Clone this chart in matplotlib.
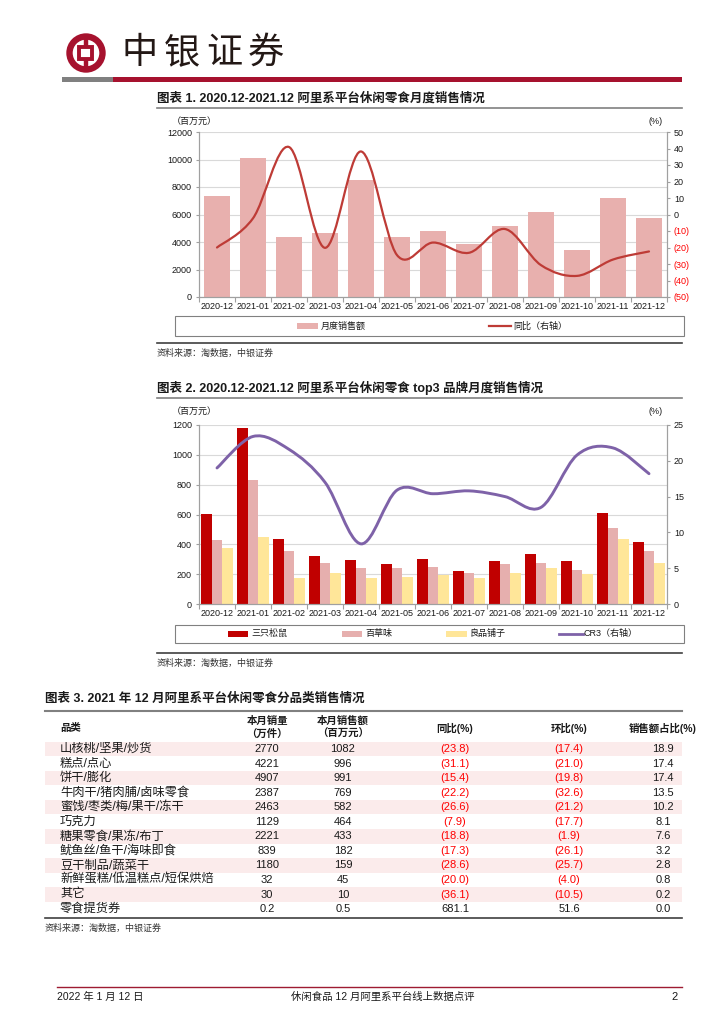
import numpy as np
import matplotlib
matplotlib.use('Agg')
import matplotlib.pyplot as plt
from matplotlib.path import Path
from matplotlib.patches import PathPatch, Rectangle, Circle
from matplotlib.ticker import FixedLocator

plt.rcParams['font.family'] = ['Liberation Sans', 'Noto Sans CJK SC', 'DejaVu Sans']

# ---------------- data ----------------
months = ['2020-12', '2021-01', '2021-02', '2021-03', '2021-04', '2021-05', '2021-06',
          '2021-07', '2021-08', '2021-09', '2021-10', '2021-11', '2021-12']
sales_total = [7350, 10120, 4360, 4670, 8520, 4380, 4820, 3840, 5160, 6160, 3450, 7200, 5720]
yoy_total = [-20.0, -2.3, 40.9, -20.2, 38.2, -24.6, -17.0, -23.2, -8.8, -30.7, -37.2, -27.3, -22.4]

squirrel = [605, 1180, 437, 325, 296, 265, 300, 222, 285, 336, 285, 610, 415]
baicaowei = [430, 830, 352, 274, 240, 240, 251, 211, 271, 276, 229, 511, 354]
liangpin = [374, 448, 173, 209, 177, 184, 193, 177, 211, 240, 202, 435, 274]
cr3 = [19.0, 23.4, 21.6, 17.0, 8.4, 15.9, 15.4, 15.8, 15.0, 13.5, 20.8, 21.8, 18.2]

brand_names = ['三只松鼠', '百草味', '良品铺子', 'CR3（右轴）']

categories = ['山核桃/坚果/炒货', '糕点/点心', '饼干/膨化', '牛肉干/猪肉脯/卤味零食',
              '蜜饯/枣类/梅/果干/冻干', '巧克力', '糖果零食/果冻/布丁', '鱿鱼丝/鱼干/海味即食',
              '豆干制品/蔬菜干', '新鲜蛋糕/低温糕点/短保烘焙', '其它', '零食提货券']
volume = [2770, 4221, 4907, 2387, 2463, 1129, 2221, 839, 1180, 32, 30, 0.2]
revenue = [1082, 996, 991, 769, 582, 464, 433, 182, 159, 45, 10, 0.5]
yoy_cat = [-23.8, -31.1, -15.4, -22.2, -26.6, -7.9, -18.8, -17.3, -28.6, -20.0, -36.1, 681.1]
mom_cat = [-17.4, -21.0, -19.8, -32.6, -21.2, -17.7, -1.9, -26.1, -25.7, -4.0, -10.5, 51.6]
share_cat = [18.9, 17.4, 17.4, 13.5, 10.2, 8.1, 7.6, 3.2, 2.8, 0.8, 0.2, 0.0]

# ---------------- styles ----------------
W, H = 725, 1024
fig = plt.figure(figsize=(W / 100, H / 100), dpi=100)
fig.patch.set_facecolor('white')

RED_BRAND = '#A6122E'
GRAY_AX = '#A0A0A0'
GRID = '#D9D9D9'
TXT = '#1A1A1A'
FS_TICK = 6.5

bg = fig.add_axes([0, 0, 1, 1])
bg.set_xlim(0, W)
bg.set_ylim(H, 0)
bg.axis('off')
bg.set_zorder(0)


def px_axes(x0, y0, x1, y1):
    ax = fig.add_axes([x0 / W, 1 - y1 / H, (x1 - x0) / W, (y1 - y0) / H])
    ax.set_facecolor('none')
    ax.set_zorder(2)
    return ax


def smooth_path(xs, ys):
    pts = np.column_stack([xs, ys]).astype(float)
    n = len(pts)
    verts = [pts[0]]
    codes = [Path.MOVETO]
    for i in range(n - 1):
        p0 = pts[i - 1] if i > 0 else pts[i]
        p1 = pts[i]
        p2 = pts[i + 1]
        p3 = pts[i + 2] if i + 2 < n else pts[i + 1]
        c1 = p1 + (p2 - p0) / 6.0
        c2 = p2 - (p3 - p1) / 6.0
        verts += [c1, c2, p2]
        codes += [Path.CURVE4] * 3
    return Path(verts, codes)


def style_axes(ax, axr, ymax, ystep, rmin, rmax, rstep, rlabels, rcolors):
    x = np.arange(len(months))
    ax.set_xlim(-0.5, len(months) - 0.5)
    ax.set_ylim(0, ymax)
    ax.set_yticks(np.arange(0, ymax + 1, ystep))
    ax.set_yticklabels([f'{v:d}' for v in np.arange(0, ymax + 1, ystep)])
    ax.yaxis.grid(True, color=GRID, lw=0.8, zorder=0)
    ax.set_axisbelow(True)
    ax.set_xticks(x)
    ax.set_xticklabels(months)
    ax.xaxis.set_minor_locator(FixedLocator(np.arange(-0.5, len(months), 1.0)))
    ax.tick_params(axis='x', which='major', length=0, pad=3.5, labelsize=FS_TICK, colors=TXT)
    ax.tick_params(axis='x', which='minor', length=3.5, color=GRAY_AX, width=0.8)
    ax.tick_params(axis='y', length=2.5, pad=2.5, labelsize=FS_TICK, color=GRAY_AX, width=0.8, labelcolor=TXT)
    for s in ['top']:
        ax.spines[s].set_visible(False)
        axr.spines[s].set_visible(False)
    for s in ['left', 'bottom', 'right']:
        ax.spines[s].set_color(GRAY_AX)
        ax.spines[s].set_linewidth(0.8)
        axr.spines[s].set_color(GRAY_AX)
        axr.spines[s].set_linewidth(0.8)
    axr.set_ylim(rmin, rmax)
    rt = np.arange(rmin, rmax + 0.1, rstep)
    axr.set_yticks(rt)
    axr.set_yticklabels(rlabels)
    for lab, c in zip(axr.get_yticklabels(), rcolors):
        lab.set_color(c)
    axr.tick_params(axis='y', length=2.5, pad=2.5, labelsize=FS_TICK, color=GRAY_AX, width=0.8)


# ---------------- header ----------------
bg.add_patch(Circle((86, 53), 16.5, fill=False, ec=RED_BRAND, lw=4.6))
bg.add_patch(Rectangle((79.5, 47), 13, 11.5, fill=False, ec=RED_BRAND, lw=2.8))
bg.plot([86, 86], [37, 47], color=RED_BRAND, lw=3.2, solid_capstyle='butt')
bg.plot([86, 86], [58.5, 69], color=RED_BRAND, lw=3.2, solid_capstyle='butt')
for i, ch in enumerate('中银证券'):
    bg.text(140 + i * 42, 53, ch, fontsize=26, ha='center', va='center', color='#231815',
            family=['Noto Sans CJK SC'], fontweight='medium')
bg.add_patch(Rectangle((62, 77), 51, 5, color='#808080', lw=0))
bg.add_patch(Rectangle((113, 77), 569, 5, color=RED_BRAND, lw=0))

# ---------------- chart 1 ----------------
bg.text(157, 98, '图表 1. 2020.12-2021.12 阿里系平台休闲零食月度销售情况', fontsize=9,
        fontweight='bold', va='center', ha='left', color=TXT)
bg.plot([157, 682], [108, 108], color='#808080', lw=1.2)
bg.text(172, 121, '（百万元）', fontsize=6.5, va='center', ha='left', color=TXT)
bg.text(663, 121, '(%)', fontsize=6.5, va='center', ha='right', color=TXT)

ax1 = px_axes(199, 132, 667, 297)
ax1r = ax1.twinx()
ax1r.set_zorder(3)
x = np.arange(len(months))
ax1.bar(x, sales_total, width=0.7, color='#E8B0AE', zorder=2)
r1_ticks = np.arange(-50, 51, 10)
r1_labels = [f'({abs(v)})' if v < 0 else f'{v}' for v in r1_ticks]
r1_colors = ['#FF0000' if v < 0 else TXT for v in r1_ticks]
style_axes(ax1, ax1r, 12000, 2000, -50, 50, 10, r1_labels, r1_colors)
ax1r.add_patch(PathPatch(smooth_path(x, yoy_total), fill=False, ec='#BE3B36', lw=1.6,
                         capstyle='round', joinstyle='round'))

# legend 1
bg.add_patch(Rectangle((175, 316), 509, 20, fill=False, ec='#808080', lw=0.8))
bg.add_patch(Rectangle((297, 323), 21, 6, color='#E8B0AE', lw=0))
bg.text(321, 326, '月度销售额', fontsize=6.5, va='center', ha='left', color=TXT)
bg.plot([489, 511], [326, 326], color='#BE3B36', lw=1.6)
bg.text(513, 326, '同比（右轴）', fontsize=6.5, va='center', ha='left', color=TXT)
bg.plot([157, 682], [343, 343], color='#404040', lw=1.2)
bg.text(157, 353, '资料来源：淘数据，中银证券', fontsize=6.5, va='center', ha='left', color='#333333')

# ---------------- chart 2 ----------------
bg.text(157, 388, '图表 2. 2020.12-2021.12 阿里系平台休闲零食 top3 品牌月度销售情况', fontsize=9,
        fontweight='bold', va='center', ha='left', color=TXT)
bg.plot([157, 682], [398, 398], color='#808080', lw=1.2)
bg.text(172, 411, '（百万元）', fontsize=6.5, va='center', ha='left', color=TXT)
bg.text(663, 411, '(%)', fontsize=6.5, va='center', ha='right', color=TXT)

ax2 = px_axes(199, 425, 667, 604)
ax2r = ax2.twinx()
ax2r.set_zorder(3)
bw = 0.29
c_sq, c_bc, c_lp, c_cr = '#C00000', '#E6AFAE', '#FFE699', '#7E62A8'
ax2.bar(x - bw, squirrel, width=bw, color=c_sq, zorder=2)
ax2.bar(x, baicaowei, width=bw, color=c_bc, zorder=2)
ax2.bar(x + bw, liangpin, width=bw, color=c_lp, zorder=2)
r2_ticks = np.arange(0, 26, 5)
style_axes(ax2, ax2r, 1200, 200, 0, 25, 5, [f'{v}' for v in r2_ticks], [TXT] * len(r2_ticks))
ax2r.add_patch(PathPatch(smooth_path(x, cr3), fill=False, ec=c_cr, lw=2.1,
                         capstyle='round', joinstyle='round'))

# legend 2
bg.add_patch(Rectangle((175, 625), 509, 17.5, fill=False, ec='#808080', lw=0.8))
ly = 633.5
bg.add_patch(Rectangle((228, ly - 3), 20, 6, color=c_sq, lw=0))
bg.text(251, ly, brand_names[0], fontsize=6.5, va='center', ha='left', color=TXT)
bg.add_patch(Rectangle((342, ly - 3), 20, 6, color=c_bc, lw=0))
bg.text(365, ly, brand_names[1], fontsize=6.5, va='center', ha='left', color=TXT)
bg.add_patch(Rectangle((446, ly - 3), 21, 6, color=c_lp, lw=0))
bg.text(470, ly, brand_names[2], fontsize=6.5, va='center', ha='left', color=TXT)
bg.plot([559, 583], [ly, ly], color=c_cr, lw=2.0)
bg.text(584, ly, brand_names[3], fontsize=6.5, va='center', ha='left', color=TXT)
bg.plot([157, 682], [653, 653], color='#404040', lw=1.2)
bg.text(157, 663, '资料来源：淘数据，中银证券', fontsize=6.5, va='center', ha='left', color='#333333')

# ---------------- table ----------------
bg.text(45, 699, '图表 3. 2021 年 12 月阿里系平台休闲零食分品类销售情况', fontsize=9,
        fontweight='bold', va='center', ha='left', color=TXT)
bg.plot([45, 682], [711, 711], color='#808080', lw=1.5)

col_x = [60, 267, 343, 455, 569, 663]
FS_T = 7.5
FS_NUM = 8
FS_CAT = 8.8
bg.text(col_x[0], 728, '品类', fontsize=FS_T, fontweight='bold', va='center', ha='left', color=TXT)
bg.text(col_x[1], 721, '本月销量', fontsize=FS_T, fontweight='bold', va='center', ha='center', color=TXT)
bg.text(col_x[1], 734, '（万件）', fontsize=FS_T, fontweight='bold', va='center', ha='center', color=TXT)
bg.text(col_x[2], 721, '本月销售额', fontsize=FS_T, fontweight='bold', va='center', ha='center', color=TXT)
bg.text(col_x[2], 734, '（百万元）', fontsize=FS_T, fontweight='bold', va='center', ha='center', color=TXT)
bg.text(col_x[3], 728, '同比(%)', fontsize=FS_T, fontweight='bold', va='center', ha='center', color=TXT)
bg.text(col_x[4], 728, '环比(%)', fontsize=FS_T, fontweight='bold', va='center', ha='center', color=TXT)
bg.text(col_x[5], 728, '销售额占比(%)', fontsize=FS_T, fontweight='bold', va='center', ha='center', color=TXT)


def fmt_pct(v):
    if v < 0:
        return f'({abs(v):.1f})', '#FF0000'
    return f'{v:.1f}', TXT


y0, dy = 749, 14.55
for i, cat in enumerate(categories):
    y = y0 + i * dy
    if i % 2 == 0:
        bg.add_patch(Rectangle((45, y - dy / 2), 637, dy, color='#FBEBEB', lw=0, zorder=0))
    bg.text(col_x[0], y, cat, fontsize=FS_CAT, va='center', ha='left', color=TXT)
    bg.text(col_x[1], y, f'{volume[i]:g}', fontsize=FS_NUM, va='center', ha='center', color=TXT)
    bg.text(col_x[2], y, f'{revenue[i]:g}', fontsize=FS_NUM, va='center', ha='center', color=TXT)
    s, c = fmt_pct(yoy_cat[i])
    bg.text(col_x[3], y, s, fontsize=FS_NUM, va='center', ha='center', color=c)
    s, c = fmt_pct(mom_cat[i])
    bg.text(col_x[4], y, s, fontsize=FS_NUM, va='center', ha='center', color=c)
    bg.text(col_x[5], y, f'{share_cat[i]:.1f}', fontsize=FS_NUM, va='center', ha='center', color=TXT)

bg.plot([45, 682], [918, 918], color='#404040', lw=1.2)
bg.text(45, 928, '资料来源：淘数据，中银证券', fontsize=6.5, va='center', ha='left', color='#333333')

# ---------------- footer ----------------
bg.plot([57, 682], [987, 987], color='#9E1B32', lw=1.0)
bg.text(57, 997, '2022 年 1 月 12 日', fontsize=7.5, va='center', ha='left', color=TXT)
bg.text(383, 997, '休闲食品 12 月阿里系平台线上数据点评', fontsize=7.5, va='center', ha='center', color=TXT)
bg.text(678, 997, '2', fontsize=8, va='center', ha='right', color=TXT)

fig.savefig('out.png', dpi=100, facecolor='white')
